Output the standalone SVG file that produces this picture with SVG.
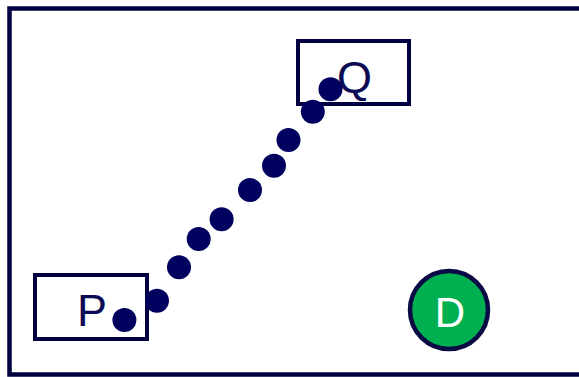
<svg xmlns="http://www.w3.org/2000/svg" width="579" height="377" viewBox="0 0 579 377">
<style>
.frame{fill:#ffffff;stroke:#00003f;stroke-width:4.5}
.box{fill:#ffffff;stroke:#000040;stroke-width:4}
.lbl{font-family:"Liberation Sans",Arial,sans-serif;font-size:45px;fill:#0a0a55}
.dot{fill:#00005e}
.dnode{fill:#00b050;stroke:#0a0a45;stroke-width:4.5}
.dlbl{font-family:"Liberation Sans",Arial,sans-serif;font-size:42px;fill:#ffffff;text-anchor:middle}
</style>
<rect x="0" y="0" width="579" height="377" fill="#ffffff"/>
<rect class="frame" x="9.5" y="8.5" width="600" height="366"/>
<g id="node-P">
<rect class="box" x="35" y="275" width="112" height="64"/>
<text class="lbl" x="77" y="326">P</text>
</g>
<g id="node-Q">
<rect class="box" x="298" y="41" width="111" height="63"/>
<text class="lbl" x="337" y="93">Q</text>
</g>
<g id="node-D">
<circle class="dnode" cx="449" cy="310" r="39"/>
<text class="dlbl" x="450" y="327">D</text>
</g>
<g id="connectors">
<circle class="dot" cx="124.4" cy="320" r="12"/>
<circle class="dot" cx="157" cy="300.7" r="12"/>
<circle class="dot" cx="179" cy="267.3" r="12"/>
<circle class="dot" cx="198.7" cy="239" r="12"/>
<circle class="dot" cx="221.6" cy="219.3" r="12"/>
<circle class="dot" cx="250" cy="190" r="12"/>
<circle class="dot" cx="274" cy="165.7" r="12"/>
<circle class="dot" cx="288.5" cy="140" r="12"/>
<circle class="dot" cx="312.8" cy="111.7" r="12"/>
<circle class="dot" cx="330.5" cy="89.3" r="12"/>
</g>
</svg>
